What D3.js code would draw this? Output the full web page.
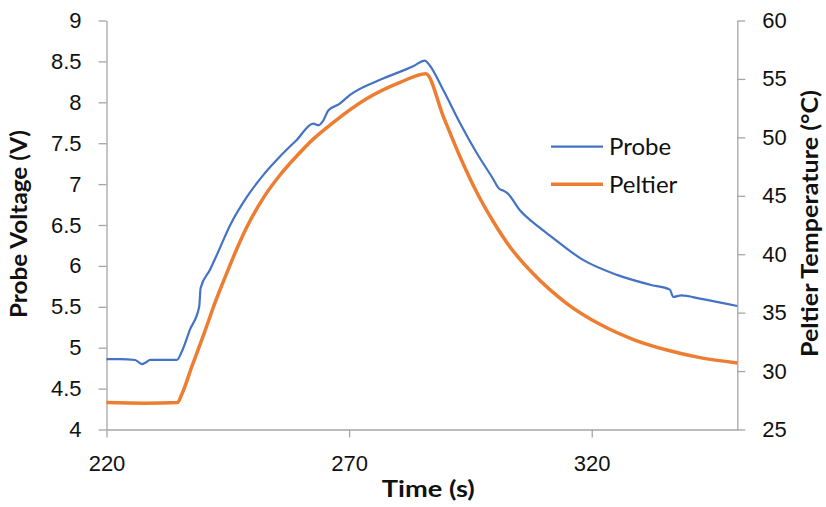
<!DOCTYPE html>
<html>
<head>
<meta charset="utf-8">
<script src="https://cdn.jsdelivr.net/npm/d3@7"></script>
<style>
  body { margin: 0; background: #fff; }
  svg { display: block; font-family: Lato, "Open Sans", sans-serif; }
</style>
</head>
<body>
<svg id="chart" width="826" height="507"></svg>
<script>
// probe voltage trace (left axis)
const probeTime = [220, 222.8, 225.9, 227.3, 228.1, 229.0, 234.5, 235.5, 237.2, 239.1, 239.4, 241.3, 243.0,
  245.5, 248.9, 252.3, 255.8, 259.2, 262.6, 263.7, 264.7, 265.7, 268.0, 270.2, 277.0, 283.2, 285.6,
  286.5, 289.4, 292.9, 296.3, 299.4, 301.0, 301.8, 302.6, 305.2, 309.0, 311.4, 318.3, 325.2, 332.0,
  336.1, 336.8, 338.5, 342.3, 350];
const probeVolt = [4.86, 4.86, 4.85, 4.80, 4.82, 4.85, 4.85, 4.95, 5.22, 5.50, 5.73, 5.95, 6.17,
  6.50, 6.84, 7.11, 7.34, 7.54, 7.74, 7.72, 7.78, 7.90, 7.98, 8.09, 8.29, 8.44, 8.51,
  8.46, 8.15, 7.74, 7.38, 7.09, 6.94, 6.92, 6.89, 6.68, 6.48, 6.37, 6.07, 5.89, 5.77,
  5.71, 5.62, 5.64, 5.60, 5.51];

// peltier temperature trace (right axis)
const peltierTime = [220, 228, 234.6, 235.5, 237.6, 240.1, 242.5, 244.8, 246.8, 248.9, 252.3, 255.8,
  259.2, 262.6, 266.5, 273.6, 280.5, 285.8, 289.4, 292.9, 296.3, 299.7, 303.2, 308, 314.8, 321.7,
  328.6, 335.5, 342.3, 350];
const peltierTemp = [27.3, 27.25, 27.3, 28.0, 30.4, 33.2, 36.0, 38.4, 40.4, 42.3, 44.8, 46.8,
  48.4, 49.85, 51.2, 53.3, 54.7, 55.45, 51.8, 48.3, 45.3, 42.8, 40.6, 38.3, 35.8, 34.0,
  32.7, 31.8, 31.15, 30.7];

const xTicks = [220, 270, 320];
const leftTicks = [4, 4.5, 5, 5.5, 6, 6.5, 7, 7.5, 8, 8.5, 9];
const leftTickLabels = ["4", "4.5", "5", "5.5", "6", "6.5", "7", "7.5", "8", "8.5", "9"];
const rightTicks = [25, 30, 35, 40, 45, 50, 55, 60];
const seriesNames = ["Probe", "Peltier"];

const svg = d3.select("#chart");
const plotLeft = 106.5, plotRight = 737.3, plotTop = 20.5, plotBottom = 429.5;
const axisColor = "#a6a6a6";
const colors = ["#4472c4", "#ed7d31"];

const x = d3.scaleLinear().domain([220, 350]).range([plotLeft, plotRight]);
const yL = d3.scaleLinear().domain([4, 9]).range([plotBottom, plotTop]);
const yR = d3.scaleLinear().domain([25, 60]).range([plotBottom, plotTop]);

function styleAxis(g) {
  g.selectAll("path, line").attr("stroke", axisColor).attr("stroke-width", 1.3);
  g.selectAll("text").attr("fill", "#111").attr("font-size", 22);
}

svg.append("g")
  .attr("transform", `translate(0,${plotBottom})`)
  .call(d3.axisBottom(x).tickValues(xTicks).tickSize(8).tickSizeOuter(0).tickPadding(18))
  .call(styleAxis);

svg.append("g")
  .attr("transform", `translate(${plotLeft},0)`)
  .call(d3.axisLeft(yL).tickValues(leftTicks).tickSize(8).tickSizeOuter(0).tickPadding(17)
    .tickFormat((d, i) => leftTickLabels[i]))
  .call(styleAxis);

svg.append("g")
  .attr("transform", `translate(${plotRight},0)`)
  .call(d3.axisRight(yR).tickValues(rightTicks).tickSize(8).tickSizeOuter(0).tickPadding(17))
  .call(styleAxis);

// series lines
const probeData = probeTime.map((t, i) => [t, probeVolt[i]]);
const peltierData = peltierTime.map((t, i) => [t, peltierTemp[i]]);

svg.append("path")
  .datum(peltierData)
  .attr("fill", "none")
  .attr("stroke", colors[1])
  .attr("stroke-width", 3.5)
  .attr("stroke-linejoin", "round")
  .attr("d", d3.line().x(d => x(d[0])).y(d => yR(d[1])).curve(d3.curveMonotoneX));

svg.append("path")
  .datum(probeData)
  .attr("fill", "none")
  .attr("stroke", colors[0])
  .attr("stroke-width", 2.2)
  .attr("stroke-linejoin", "round")
  .attr("d", d3.line().x(d => x(d[0])).y(d => yL(d[1])).curve(d3.curveMonotoneX));

// axis titles (lengths matched to the reference)
function title(txt, tx, ty, rot, len) {
  svg.append("text")
    .attr("transform", `translate(${tx},${ty}) rotate(${rot})`)
    .attr("text-anchor", "middle")
    .attr("font-size", 22).attr("font-weight", "bold").attr("fill", "#111")
    .attr("textLength", len).attr("lengthAdjust", "spacingAndGlyphs")
    .text(txt);
}
title("Time (s)", 428.3, 497, 0, 93);
title("Probe Voltage (V)", 27, 224, -90, 188);
title("Peltier Temperature (°C)", 818, 223.5, -90, 267);

// legend
const legend = svg.append("g");
seriesNames.forEach((name, i) => {
  const ly = 146.7 + i * 37.6;
  legend.append("line")
    .attr("x1", 551).attr("x2", 603).attr("y1", ly).attr("y2", ly)
    .attr("stroke", colors[i]).attr("stroke-width", i === 0 ? 2.2 : 3.5);
  legend.append("text")
    .attr("x", 609).attr("y", ly).attr("dy", "0.36em")
    .attr("font-size", 24).attr("fill", "#111")
    .text(name);
});
</script>
</body>
</html>
